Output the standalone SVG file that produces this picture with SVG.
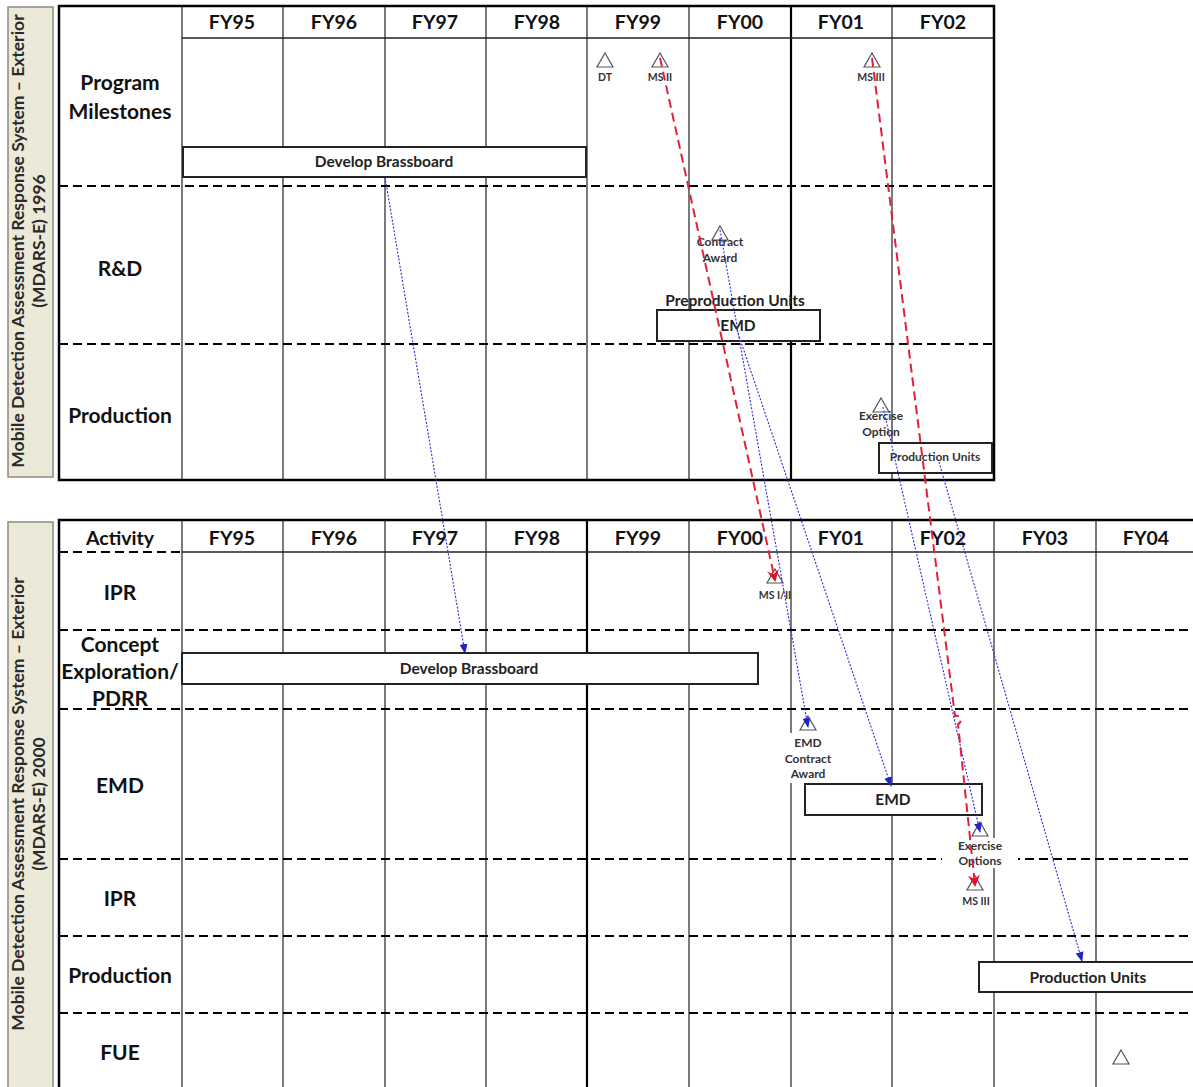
<svg xmlns="http://www.w3.org/2000/svg" width="1193" height="1087" viewBox="0 0 1193 1087">
<style>
.bg{fill:#fff}
.frame{fill:none;stroke:#000;stroke-width:2.5}
.v{stroke:#222;stroke-width:1.2}
.vt{stroke:#000;stroke-width:2.2}
.h{stroke:#222;stroke-width:1.3}
.dash{stroke:#000;stroke-width:2;stroke-dasharray:9 5}
.side{fill:#EDE9D9;stroke:#8a8a80;stroke-width:1.5}
.sidetxt{font-family:Lato,"Open Sans",sans-serif;font-weight:bold;font-size:17.5px;fill:#2a2a2a;text-anchor:middle}
.hdr{font-family:Lato,"Open Sans",sans-serif;font-weight:bold;font-size:19.5px;fill:#111;text-anchor:middle}
.row{font-family:Lato,"Open Sans",sans-serif;font-weight:bold;font-size:21px;fill:#111;text-anchor:middle}
.bar{fill:#fff;stroke:#222;stroke-width:2}
.bartxt{font-family:Lato,"Open Sans",sans-serif;font-weight:bold;font-size:15.5px;fill:#222;text-anchor:middle}
.sm{font-family:Lato,"Open Sans",sans-serif;font-weight:bold;font-size:12px;fill:#333;text-anchor:middle}
.xs{font-family:Lato,"Open Sans",sans-serif;font-weight:bold;font-size:10.5px;fill:#333;text-anchor:middle}
.tri{fill:#fff;stroke:#555;stroke-width:1.2}
.blue{fill:none;stroke:#2b2bd6;stroke-width:1.1;stroke-dasharray:2 1.6}
.red{fill:none;stroke:#e3203c;stroke-width:2;stroke-dasharray:9 5}
</style>
<defs>
<marker id="ab" markerWidth="10" markerHeight="10" refX="9" refY="5" orient="auto" markerUnits="userSpaceOnUse">
<path d="M0,1 L10,5 L0,9 Z" fill="#2222cc"/>
</marker>
<marker id="ar" markerWidth="12" markerHeight="12" refX="10" refY="6" orient="auto" markerUnits="userSpaceOnUse">
<path d="M0,0 L12,6 L0,12 L4,6 Z" fill="#e3102c"/>
</marker>
</defs>
<rect x="0" y="0" width="1193" height="1087" class="bg"/>

<!-- ===== TOP TABLE ===== -->
<g id="top-side-label">
<rect x="8" y="7" width="45" height="470" class="side"/>
<text class="sidetxt" transform="translate(24,241) rotate(-90)">Mobile Detection Assessment Response System – Exterior</text>
<text class="sidetxt" transform="translate(45,241) rotate(-90)">(MDARS-E) 1996</text>
</g>
<g id="top-grid">
<line x1="283" y1="6" x2="283" y2="480" class="v"/>
<line x1="385" y1="6" x2="385" y2="480" class="v"/>
<line x1="486" y1="6" x2="486" y2="480" class="v"/>
<line x1="587" y1="6" x2="587" y2="480" class="v"/>
<line x1="689" y1="6" x2="689" y2="480" class="v"/>
<line x1="791" y1="6" x2="791" y2="480" class="vt"/>
<line x1="892" y1="6" x2="892" y2="480" class="v"/>
<line x1="182" y1="6" x2="182" y2="480" class="v"/>
<line x1="182" y1="38" x2="994" y2="38" class="h"/>
<line x1="59" y1="186" x2="994" y2="186" class="dash"/>
<line x1="59" y1="344" x2="994" y2="344" class="dash"/>
<rect x="59" y="6" width="935" height="474" class="frame"/>
</g>
<g id="top-headers">
<text class="hdr" x="232" y="29">FY95</text>
<text class="hdr" x="334" y="29">FY96</text>
<text class="hdr" x="435" y="29">FY97</text>
<text class="hdr" x="537" y="29">FY98</text>
<text class="hdr" x="638" y="29">FY99</text>
<text class="hdr" x="740" y="29">FY00</text>
<text class="hdr" x="841" y="29">FY01</text>
<text class="hdr" x="943" y="29">FY02</text>
</g>
<g id="top-rows">
<text class="row" x="120" y="90">Program</text>
<text class="row" x="120" y="119">Milestones</text>
<text class="row" x="120" y="276">R&amp;D</text>
<text class="row" x="120" y="423">Production</text>
</g>
<g id="top-brassboard">
<rect x="183" y="147" width="403" height="30" class="bar"/>
<text class="bartxt" x="384" y="167">Develop Brassboard</text>
</g>
<g id="top-dt">
<path d="M605,53 L613,67 L597,67 Z" class="tri"/>
<text class="xs" x="605" y="81">DT</text>
</g>
<g id="top-ms2">
<path d="M660,53 L668,67 L652,67 Z" class="tri"/>
<text class="xs" x="660" y="81">MS II</text>
</g>
<g id="top-ms3">
<path d="M872,53 L880,67 L864,67 Z" class="tri"/>
<text class="xs" x="871" y="81">MS III</text>
</g>
<g id="top-contract-award">
<path d="M720,226 L728,240 L712,240 Z" class="tri"/>
<text class="sm" x="720" y="246">Contract</text>
<text class="sm" x="720" y="262">Award</text>
</g>
<g id="top-emd">
<text class="bartxt" x="735" y="306" style="font-size:15.5px">Preproduction Units</text>
<rect x="657" y="310" width="163" height="31" class="bar"/>
<text class="bartxt" x="738" y="331">EMD</text>
</g>
<g id="top-exercise-option">
<path d="M881,398 L889,412 L873,412 Z" class="tri"/>
<text class="sm" x="881" y="420">Exercise</text>
<text class="sm" x="881" y="436">Option</text>
</g>
<g id="top-production-units">
<rect x="879" y="443" width="113" height="30" class="bar"/>
<text class="sm" x="935" y="461" style="font-size:12px">Production Units</text>
</g>

<!-- ===== BOTTOM TABLE ===== -->
<g id="bottom-side-label">
<rect x="8" y="522" width="45" height="570" class="side"/>
<text class="sidetxt" transform="translate(24,804) rotate(-90)">Mobile Detection Assessment Response System – Exterior</text>
<text class="sidetxt" transform="translate(45,804) rotate(-90)">(MDARS-E) 2000</text>
</g>
<g id="bottom-grid">
<line x1="182" y1="520" x2="182" y2="1087" class="v"/>
<line x1="283" y1="520" x2="283" y2="1087" class="v"/>
<line x1="385" y1="520" x2="385" y2="1087" class="v"/>
<line x1="486" y1="520" x2="486" y2="1087" class="v"/>
<line x1="587" y1="520" x2="587" y2="1087" class="vt"/>
<line x1="689" y1="520" x2="689" y2="1087" class="v"/>
<line x1="791" y1="520" x2="791" y2="1087" class="v"/>
<line x1="892" y1="520" x2="892" y2="1087" class="v"/>
<line x1="994" y1="520" x2="994" y2="1087" class="v"/>
<line x1="1096" y1="520" x2="1096" y2="1087" class="v"/>
<line x1="182" y1="552" x2="1193" y2="552" class="h"/>
<line x1="59" y1="552" x2="182" y2="552" class="dash"/>
<line x1="59" y1="630" x2="1193" y2="630" class="dash"/>
<line x1="59" y1="709" x2="1193" y2="709" class="dash"/>
<line x1="59" y1="859" x2="1193" y2="859" class="dash"/>
<line x1="59" y1="936" x2="1193" y2="936" class="dash"/>
<line x1="59" y1="1013" x2="1193" y2="1013" class="dash"/>
<path d="M59,1090 L59,520 L1196,520" class="frame"/>
</g>
<g id="bottom-headers">
<text class="hdr" x="120" y="545">Activity</text>
<text class="hdr" x="232" y="545">FY95</text>
<text class="hdr" x="334" y="545">FY96</text>
<text class="hdr" x="435" y="545">FY97</text>
<text class="hdr" x="537" y="545">FY98</text>
<text class="hdr" x="638" y="545">FY99</text>
<text class="hdr" x="740" y="545">FY00</text>
<text class="hdr" x="841" y="545">FY01</text>
<text class="hdr" x="943" y="545">FY02</text>
<text class="hdr" x="1045" y="545">FY03</text>
<text class="hdr" x="1146" y="545">FY04</text>
</g>
<g id="bottom-rows">
<text class="row" x="120" y="600">IPR</text>
<text class="row" x="120" y="652">Concept</text>
<text class="row" x="120" y="679">Exploration/</text>
<text class="row" x="120" y="706">PDRR</text>
<text class="row" x="120" y="793">EMD</text>
<text class="row" x="120" y="906">IPR</text>
<text class="row" x="120" y="983">Production</text>
<text class="row" x="120" y="1060">FUE</text>
</g>
<g id="bottom-brassboard">
<rect x="182" y="653" width="576" height="31" class="bar"/>
<text class="bartxt" x="469" y="674">Develop Brassboard</text>
</g>
<g id="bottom-ms12">
<path d="M775,569 L783,583 L767,583 Z" class="tri"/>
<text class="xs" x="775" y="599">MS I/II</text>
</g>
<g id="bottom-emd-contract-award">
<rect x="785" y="733" width="47" height="50" fill="#fff"/>
<path d="M808,716 L816,730 L800,730 Z" class="tri"/>
<text class="sm" x="808" y="747">EMD</text>
<text class="sm" x="808" y="763">Contract</text>
<text class="sm" x="808" y="778">Award</text>
</g>
<g id="bottom-emd">
<rect x="805" y="784" width="177" height="31" class="bar"/>
<text class="bartxt" x="893" y="805">EMD</text>
</g>
<g id="bottom-exercise-options">
<rect x="942" y="838" width="76" height="30" fill="#fff"/>
<path d="M980,822 L988,836 L972,836 Z" class="tri"/>
<text class="sm" x="980" y="850">Exercise</text>
<text class="sm" x="980" y="865">Options</text>
</g>
<g id="bottom-ms3">
<path d="M975,876 L983,890 L967,890 Z" class="tri"/>
<text class="xs" x="976" y="905">MS III</text>
</g>
<g id="bottom-production-units">
<rect x="979" y="962" width="220" height="30" class="bar"/>
<text class="bartxt" x="1088" y="983">Production Units</text>
</g>
<g id="bottom-fue">
<path d="M1121,1050 L1129,1064 L1113,1064 Z" class="tri"/>
</g>

<!-- ===== CONNECTORS ===== -->
<g id="connectors">
<line x1="385" y1="177" x2="465" y2="653" class="blue" marker-end="url(#ab)"/>
<line x1="720" y1="230" x2="808" y2="727" class="blue" marker-end="url(#ab)"/>
<line x1="737" y1="330" x2="891" y2="786" class="blue" marker-end="url(#ab)"/>
<line x1="883" y1="407" x2="980" y2="832" class="blue" marker-end="url(#ab)"/>
<line x1="939" y1="462" x2="1082" y2="961" class="blue" marker-end="url(#ab)"/>
<line x1="660" y1="58" x2="775" y2="580" class="red" marker-end="url(#ar)"/>
<path d="M872,58 L955,716 A4,4 0 0 1 958,724 L975,885" class="red" marker-end="url(#ar)"/>
</g>
</svg>
